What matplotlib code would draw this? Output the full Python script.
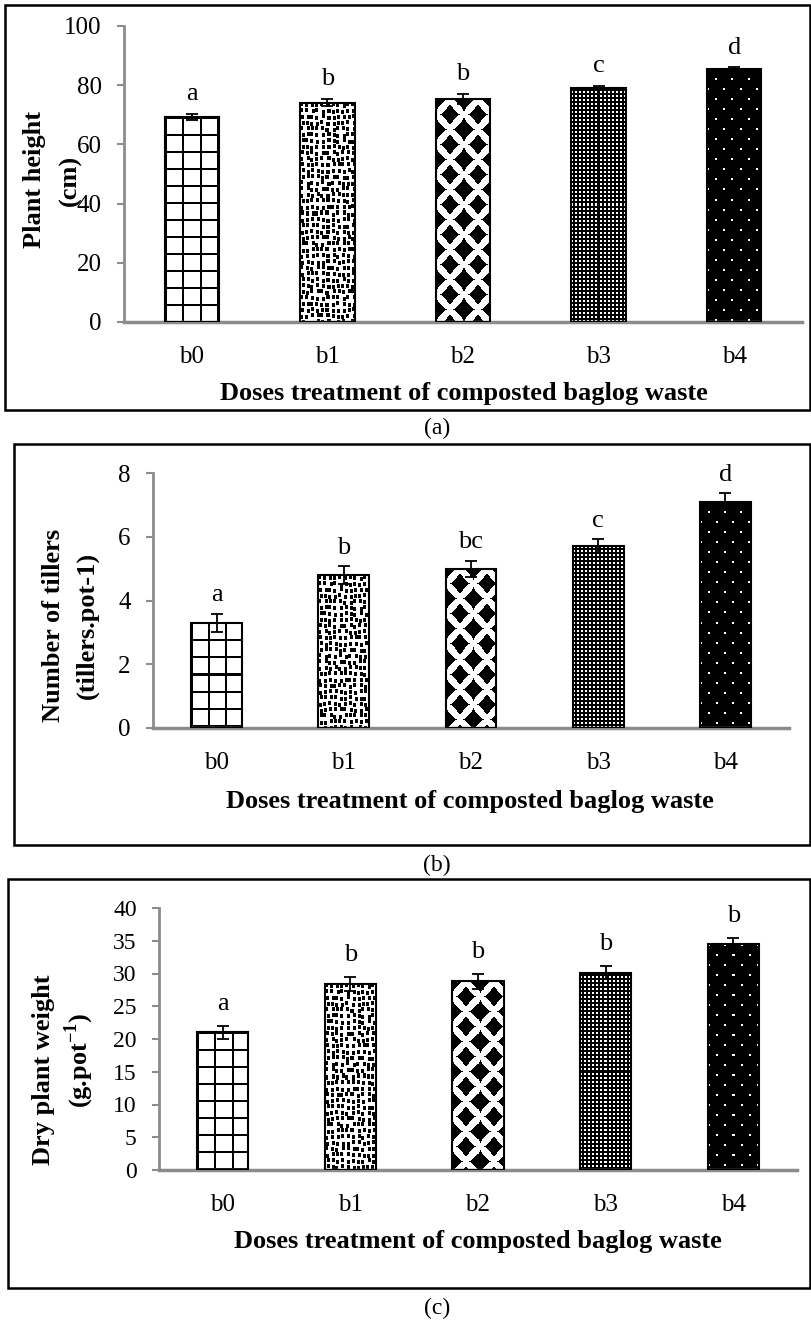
import numpy as np
import matplotlib
matplotlib.use('Agg')
import matplotlib.pyplot as plt
from matplotlib.patches import Rectangle

plt.rcParams['font.family'] = ['Liberation Serif', 'DejaVu Serif']
plt.rcParams['mathtext.fontset'] = 'custom'
plt.rcParams['mathtext.rm'] = 'Liberation Serif'
plt.rcParams['mathtext.bf'] = 'Liberation Serif:bold'

# ---- data ----
doses = ['b0', 'b1', 'b2', 'b3', 'b4']

height_cm = [69.2, 74.1, 75.3, 79.2, 85.6]
height_err = [1.1, 1.2, 1.8, 0.6, 0.4]
height_letters = ['a', 'b', 'b', 'c', 'd']

tillers = [3.3, 4.8, 5.0, 5.7, 7.1]
tillers_err = [0.29, 0.28, 0.25, 0.22, 0.26]
tillers_letters = ['a', 'b', 'bc', 'c', 'd']

dry_weight = [21.0, 28.4, 28.8, 30.1, 34.5]
dry_err = [1.0, 1.0, 1.1, 1.0, 0.95]
dry_letters = ['a', 'b', 'b', 'b', 'b']

patterns = ['grid', 'specks', 'diamonds', 'fine', 'dots']

W, H = 811, 1321
fig = plt.figure(figsize=(W / 100, H / 100), dpi=100)


def rect(x0, y0, x1, y1):
    # pixel box (origin top-left) -> figure fraction
    return [x0 / W, 1 - y1 / H, (x1 - x0) / W, (y1 - y0) / H]


def texture(kind, w, h):
    v, u = np.mgrid[0:h, 0:w]
    if kind == 'grid':
        black = (u % 17 < 2) | (v % 17 < 2)
    elif kind == 'specks':
        # one small square per 5x6 cell, shifted by an integer hash
        i, j = (v // 6).astype(np.int64), (u // 5).astype(np.int64)
        hsh = (i * 374761393 + j * 668265263) & 0xFFFFFFFF
        hsh = ((hsh ^ (hsh >> 13)) * 1274126177) & 0xFFFFFFFF
        hsh = hsh ^ (hsh >> 16)
        du = (u % 5) - (hsh % 3)
        dv = (v % 6) - ((hsh // 3) % 3)
        black = (du >= 0) & (du < 3) & (dv >= 0) & (dv < 4)
    elif kind == 'diamonds':
        black = np.zeros((h, w), bool)
        for ou, ov in [(0, 0), (13.5, 15)]:
            du = np.abs((u - ou + 13.5) % 27 - 13.5)
            dv = np.abs((v - ov + 15) % 30 - 15)
            black |= (du / 10) ** 0.85 + (dv / 11) ** 0.85 <= 1
    elif kind == 'fine':
        black = ~((u % 4 < 2) & (v % 4 < 2))
    else:
        shift = np.where((v // 10) % 2 == 1, 8, 0)
        black = ~(((u + shift) % 16 < 2) & (v % 10 < 2))
    return np.where(black, 0.0, 1.0)


def panel(box, values, errs, letters, ymax, step, ticksize, letter_off):
    ax = fig.add_axes(rect(*box))
    x = np.arange(len(doses))
    ax.set_xlim(-0.5, len(doses) - 0.5)
    ax.set_ylim(0, ymax)
    bars = ax.bar(x, values, width=0.4, facecolor='none', edgecolor='black',
                  linewidth=1.5, zorder=3)
    for bar, kind in zip(bars, patterns):
        x0, y0 = bar.get_x(), bar.get_y()
        x1, y1 = x0 + bar.get_width(), y0 + bar.get_height()
        (p0, q0), (p1, q1) = ax.transData.transform([(x0, y0), (x1, y1)])
        img = texture(kind, int(round(p1 - p0)), int(round(q1 - q0)))
        ax.imshow(img, cmap='gray', vmin=0, vmax=1, extent=(x0, x1, y0, y1),
                  aspect='auto', interpolation='nearest', zorder=2)
    ax.errorbar(x, values, yerr=errs, fmt='none', ecolor='black',
                elinewidth=1.3, capsize=4.5, capthick=1.3, zorder=4)
    for xi, v, e, t in zip(x, values, errs, letters):
        ax.annotate(t, (xi, v + e), xytext=(0, letter_off), textcoords='offset points',
                    ha='center', va='baseline', fontsize=19)
    ax.set_xlim(-0.5, len(doses) - 0.5)
    ax.set_ylim(0, ymax)
    ax.set_yticks(np.arange(0, ymax + step / 2, step))
    ax.set_xticks(x)
    ax.set_xticklabels(doses)
    for s in ['top', 'right']:
        ax.spines[s].set_visible(False)
    ax.spines['left'].set_color('#8c8c8c')
    ax.spines['left'].set_linewidth(2)
    ax.spines['bottom'].set_color('#8c8c8c')
    ax.spines['bottom'].set_linewidth(2.5)
    ax.tick_params(axis='y', direction='out', length=5, width=1.5, color='#8c8c8c',
                   pad=11, labelsize=ticksize)
    ax.tick_params(axis='x', length=0, pad=17, labelsize=18)
    return ax


def frame(x0, y0, x1, y1):
    fig.add_artist(Rectangle((x0 / W, 1 - y1 / H), (x1 - x0) / W, (y1 - y0) / H,
                             transform=fig.transFigure, fill=False,
                             edgecolor='black', linewidth=1.8))


def ftext(x, y, s, **kw):
    fig.text(x / W, 1 - y / H, s, **kw)


xlab = 'Doses treatment of composted baglog waste'
bold = dict(rotation=90, ha='center', va='center', fontsize=19, fontweight='bold')

# ---- (a) ----
frame(5, 5, 810, 410)
panel((124, 26, 802, 322), height_cm, height_err, height_letters, 100, 20, 18, 10)
ftext(34, 180, 'Plant height', **bold)
ftext(70, 180, '(cm)', **bold)
ftext(464, 400, xlab, ha='center', va='baseline', fontsize=19, fontweight='bold')
ftext(437, 428, '(a)', ha='center', va='center', fontsize=17)

# ---- (b) ----
frame(14, 444, 810, 845)
panel((153, 473, 789, 728), tillers, tillers_err, tillers_letters, 8, 2, 18, 9)
ftext(54, 625, 'Number of tillers', **bold)
ftext(87, 625, '(tillers.pot-1)', **bold)
ftext(470, 808, xlab, ha='center', va='baseline', fontsize=19, fontweight='bold')
ftext(437, 865, '(b)', ha='center', va='center', fontsize=17)

# ---- (c) ----
frame(8, 879, 810, 1288)
panel((159, 908, 797, 1170), dry_weight, dry_err, dry_letters, 40, 5, 17, 11.5)
ftext(44, 1070, 'Dry plant weight', **bold)
ftext(79, 1060, '(g.pot$^{\\mathbf{-1}}$)', **bold)
ftext(478, 1248, xlab, ha='center', va='baseline', fontsize=19, fontweight='bold')
ftext(437, 1308, '(c)', ha='center', va='center', fontsize=17)

fig.savefig('out.png', dpi=100)
